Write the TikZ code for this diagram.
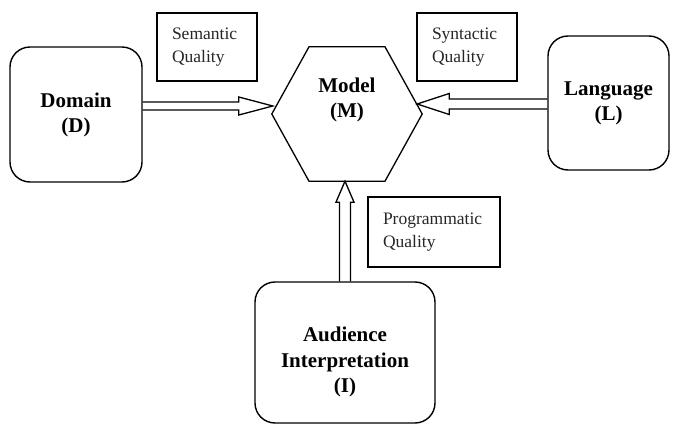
\documentclass[tikz,border=0pt]{standalone}
\usepackage{fontspec}
\setmainfont{Liberation Serif}
\usetikzlibrary{calc}
\begin{document}
\begin{tikzpicture}[x=1pt,y=-1pt,
  entity/.style={draw, line width=1.4pt, rounded corners=20pt, inner sep=0pt,
    font=\fontsize{21}{25}\selectfont\bfseries, align=center},
  entitytext/.style={inner sep=0pt, font=\fontsize{21}{25.5}\selectfont\bfseries, align=center},
  quality/.style={draw, line width=2.2pt, inner xsep=15pt, inner ysep=0pt, align=left,
    font=\fontsize{17.5}{23}\selectfont, text=black!85},
  hollow/.style={draw, line width=1.3pt, line join=miter},
  hexline/.style={draw, line width=1.3pt, line join=miter}]
\useasboundingbox (0,0) rectangle (673,425);

% the three source entities
\node[entity, minimum width=132pt, minimum height=135pt] (D) at (76,114.5) {Domain\\(D)};
\node[entity, minimum width=121pt, minimum height=134pt] (L) at (608.5,103) {Language\\(L)};
\node[entity, minimum width=180pt, minimum height=141pt] (I) at (345,352.5) {};
\node[entitytext] (Itxt) at (345,362) {Audience\\Interpretation\\(I)};

% the model hexagon
\node[minimum width=150pt, minimum height=134pt, inner sep=0pt] (M) at (347,114) {};
\draw[hexline] (M.west) -- ($(M.north)+(-38,0)$) -- ($(M.north)+(38,0)$) -- (M.east)
  -- ($(M.south)+(38,0)$) -- ($(M.south)+(-38,0)$) -- cycle;
\node[entitytext] (Mtxt) at ($(M)+(0,-14)$) {Model\\(M)};

% quality labels
\node[quality, text width=70pt, minimum height=68pt] (SQ) at (207,47) {Semantic\\Quality};
\node[quality, text width=70pt, minimum height=68pt] (YQ) at (467,47) {Syntactic\\Quality};
\node[quality, text width=102pt, minimum height=70pt] (PQ) at (434,232) {Programmatic\\Quality};

% hollow arrows into the model
\coordinate (dS) at ($(D.east)+(0,-8.5)$);
\coordinate (dT) at ($(M.west)+(1,-8)$);
\draw[hollow] ($(dS)+(0,-4)$) -- ($(dT)+(-34,-4)$) -- ($(dT)+(-34,-9)$) -- (dT)
  -- ($(dT)+(-34,9)$) -- ($(dT)+(-34,4)$) -- ($(dS)+(0,4)$);

\coordinate (lS) at ($(L.west)+(0,1)$);
\coordinate (lT) at ($(M.east)+(-5,-10)$);
\draw[hollow] ($(lS)+(0,-5)$) -- ($(lT)+(32,-5)$) -- ($(lT)+(32,-10.5)$) -- (lT)
  -- ($(lT)+(32,10.5)$) -- ($(lT)+(32,5)$) -- ($(lS)+(0,5)$);

\coordinate (iS) at (I.north);
\coordinate (iT) at (I.north |- M.south);
\draw[hollow] ($(iS)+(-5.5,0)$) -- ($(iT)+(-5.5,21)$) -- ($(iT)+(-9,21)$) -- (iT)
  -- ($(iT)+(9,21)$) -- ($(iT)+(5.5,21)$) -- ($(iS)+(5.5,0)$);
\end{tikzpicture}
\end{document}
